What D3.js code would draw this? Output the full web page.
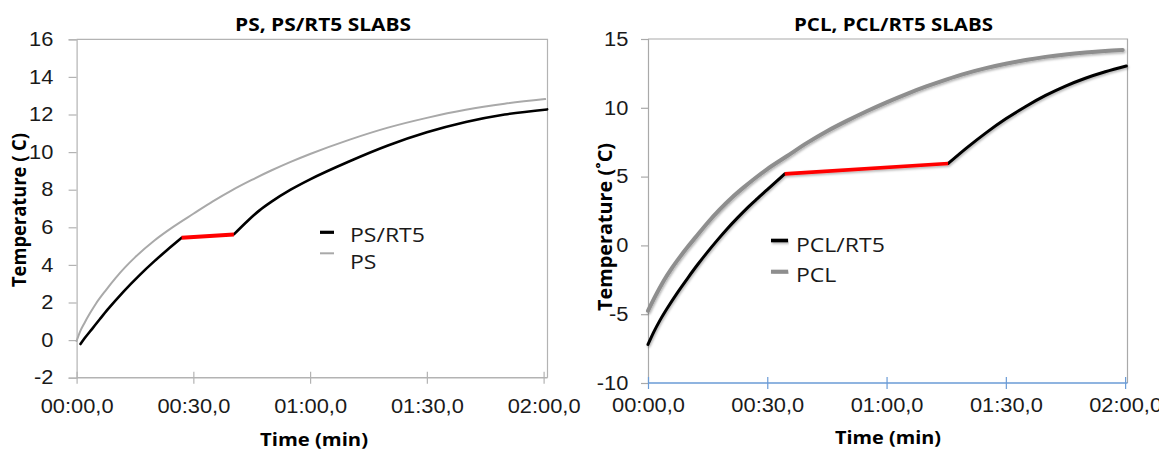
<!DOCTYPE html>
<html>
<head>
<meta charset="utf-8">
<script src="https://cdn.jsdelivr.net/npm/d3@7"></script>
<style>
  html, body { margin: 0; padding: 0; background: #fff; }
  svg { display: block; font-family: "Open Sans", sans-serif; }
</style>
</head>
<body>
<svg id="chart" width="1159" height="451"></svg>
<script>
// ---- data (time in s, temperature in °C) ----
const timeTicks = [0, 30, 60, 90, 120];
const timeTickLabels = ['00:00,0', '00:30,0', '01:00,0', '01:30,0', '02:00,0'];

const psTicks = [-2, 0, 2, 4, 6, 8, 10, 12, 14, 16];
const pclTicks = [-10, -5, 0, 5, 10, 15];

// left panel
const psTime = [0, 1, 2, 3.5, 5, 7.5, 10, 12.5, 15, 20, 25, 30, 35, 40, 45, 50, 55, 60, 70, 80, 90, 100, 110, 120.4];
const psTemp = [-0.05, 0.5, 0.9, 1.45, 1.95, 2.65, 3.3, 3.88, 4.4, 5.3, 6.05, 6.72, 7.38, 7.98, 8.52, 9.02, 9.48, 9.9, 10.65, 11.3, 11.82, 12.25, 12.57, 12.82];

const psRt5Time = [1, 2, 4, 6, 8, 12, 16, 20, 24, 27, 40.4, 44, 47, 50, 55, 60, 70, 80, 90, 100, 110, 120.9];
const psRt5Temp = [-0.21, 0.08, 0.6, 1.12, 1.63, 2.57, 3.42, 4.2, 4.92, 5.45, 5.62, 6.35, 6.9, 7.35, 8.0, 8.55, 9.5, 10.35, 11.05, 11.6, 12.0, 12.27];
const psRt5Plateau = [27, 40.4];

// right panel
const pclTime = [0, 2, 4, 6, 8, 10, 12, 15, 18, 21, 24, 27, 30, 35, 40, 45, 50, 55, 60, 65, 70, 75, 80, 85, 90, 95, 100, 105, 110, 115, 119.4];
const pclTemp = [-4.75, -3.6, -2.55, -1.65, -0.85, -0.1, 0.6, 1.65, 2.6, 3.45, 4.2, 4.9, 5.55, 6.5, 7.45, 8.3, 9.05, 9.75, 10.4, 11.0, 11.55, 12.05, 12.5, 12.88, 13.2, 13.47, 13.7, 13.88, 14.02, 14.13, 14.2];

const pclRt5Time = [0, 1.5, 3, 5, 7.5, 10, 12.5, 15, 17.5, 20, 22.5, 25, 27.5, 30, 34.4, 75.5, 80, 85, 90, 95, 100, 105, 110, 115, 120.3];
const pclRt5Temp = [-7.2, -6.27, -5.45, -4.49, -3.39, -2.37, -1.39, -0.47, 0.4, 1.23, 2.0, 2.73, 3.4, 4.05, 5.2, 5.95, 7.05, 8.18, 9.2, 10.1, 10.9, 11.58, 12.15, 12.62, 13.04];
const pclRt5Plateau = [34.4, 75.5];

const panels = [
  {
    title: 'PS, PS/RT5 SLABS', yLabel: 'Temperature ( C)',
    yTicks: psTicks, yDomain: [-2, 16], xDomain: [0, 121],
    left: 76.6, right: 547.5, top: 39.3, bottom: 377.7,
    ref: { time: psTime, temp: psTemp, label: 'PS' },
    mix: { time: psRt5Time, temp: psRt5Temp, plateau: psRt5Plateau, label: 'PS/RT5' },
    refColor: '#a9a9a9', refWidth: 2, mixWidth: 2.6, redWidth: 4, shadow: false,
    axisColor: '#b3b3b3', xAxisColor: '#b3b3b3',
    tickPad: 15.3, tickSize: 8, xLabelY: 35.6,
    titleX: 323, titleY: 31, titleW: 176,
    xTitleX: 314, xTitleY: 445.5, xTitleW: 108,
    yTitleX: 18.5, yTitleY: 210, yTitleW: 154,
    legend: { x1: 320, x2: 334, textX: 350, rows: [{ line: 232.3, text: 242 }, { line: 253.3, text: 268.6 }] }
  },
  {
    title: 'PCL, PCL/RT5 SLABS', yLabel: 'Temperature (˚C)',
    yTicks: pclTicks, yDomain: [-10, 15], xDomain: [0, 120.6],
    left: 648, right: 1127.5, top: 39, bottom: 383,
    ref: { time: pclTime, temp: pclTemp, label: 'PCL' },
    mix: { time: pclRt5Time, temp: pclRt5Temp, plateau: pclRt5Plateau, label: 'PCL/RT5' },
    refColor: '#8e8e8e', refWidth: 4, mixWidth: 3, redWidth: 3.6, shadow: true,
    axisColor: '#a9a9a9', xAxisColor: '#6a9bd6',
    tickPad: 12.7, tickSize: 7, xLabelY: 29,
    titleX: 893.5, titleY: 30.5, titleW: 199,
    xTitleX: 888, xTitleY: 443.5, xTitleW: 106,
    yTitleX: 605, yTitleY: 227, yTitleW: 168,
    legend: { x1: 771, x2: 788, textX: 796, rows: [{ line: 240.5, text: 252 }, { line: 271.7, text: 282 }] }
  }
];

const STRETCH = 1.12;
function stretch(k) {
  return function () {
    const w = this.getComputedTextLength();
    d3.select(this).attr('textLength', w * k).attr('lengthAdjust', 'spacingAndGlyphs');
  };
}
function fitTo(w) {
  return function () {
    d3.select(this).attr('textLength', w).attr('lengthAdjust', 'spacingAndGlyphs');
  };
}

function draw() {
  const svg = d3.select('#chart');
  svg.append('rect').attr('width', 1159).attr('height', 451).attr('fill', '#fff');

  const defs = svg.append('defs');
  defs.append('filter').attr('id', 'shadow')
    .attr('x', '-5%').attr('y', '-5%').attr('width', '110%').attr('height', '110%')
    .append('feDropShadow')
    .attr('dx', 1).attr('dy', 1.5).attr('stdDeviation', 1.1)
    .attr('flood-color', '#000').attr('flood-opacity', 0.3);

  panels.forEach(p => {
    const g = svg.append('g');
    const x = d3.scaleLinear().domain(p.xDomain).range([p.left, p.right]);
    const y = d3.scaleLinear().domain(p.yDomain).range([p.bottom, p.top]);

    // frame (top + right)
    g.append('path')
      .attr('d', `M${p.left},${p.top}H${p.right}V${p.bottom}`)
      .attr('fill', 'none').attr('stroke', p.axisColor).attr('stroke-width', 1.2);

    // y axis
    const yAxis = g.append('g')
      .attr('transform', `translate(${p.left},0)`)
      .call(d3.axisLeft(y).tickValues(p.yTicks).tickSize(p.tickSize)
        .tickPadding(p.tickPad).tickFormat(d => String(d)));
    yAxis.select('.domain').attr('stroke', p.axisColor).attr('stroke-width', 1.2);
    yAxis.selectAll('.tick line').attr('stroke', p.axisColor).attr('stroke-width', 1.2);
    yAxis.selectAll('.tick text')
      .attr('fill', '#1a1a1a').style('font-size', '19.5px')
      .each(stretch(STRETCH));

    // x axis, ticks crossing the line
    const xAxis = g.append('g')
      .attr('transform', `translate(0,${p.bottom})`)
      .call(d3.axisBottom(x).tickValues(timeTicks).tickSize(6)
        .tickFormat((d, i) => timeTickLabels[i]));
    xAxis.select('.domain').attr('stroke', p.xAxisColor).attr('stroke-width', 1.4)
      .attr('d', `M${p.left},0H${p.right}`);
    xAxis.selectAll('.tick line').attr('stroke', p.xAxisColor).attr('stroke-width', 1.2)
      .attr('y1', -6).attr('y2', 6);
    xAxis.selectAll('.tick text')
      .attr('y', p.xLabelY).attr('dy', 0)
      .attr('fill', '#1a1a1a').style('font-size', '19.5px')
      .each(stretch(STRETCH));

    // titles
    g.append('text').text(p.title)
      .attr('x', p.titleX).attr('y', p.titleY).attr('text-anchor', 'middle')
      .style('font-weight', 700).style('font-size', '17.5px')
      .each(fitTo(p.titleW));
    g.append('text').text('Time (min)')
      .attr('x', p.xTitleX).attr('y', p.xTitleY).attr('text-anchor', 'middle')
      .style('font-weight', 700).style('font-size', '18px')
      .each(fitTo(p.xTitleW));
    g.append('text').text(p.yLabel)
      .attr('transform', `translate(${p.yTitleX},${p.yTitleY}) rotate(-90) scale(1,${STRETCH})`)
      .attr('text-anchor', 'middle').attr('dy', '0.35em')
      .style('font-weight', 700).style('font-size', '18px')
      .each(fitTo(p.yTitleW));

    const line = d3.line()
      .x(d => x(d[0])).y(d => y(d[1]))
      .curve(d3.curveMonotoneX);

    const refPts = p.ref.time.map((t, i) => [t, p.ref.temp[i]]);
    const mixPts = p.mix.time.map((t, i) => [t, p.mix.temp[i]]);
    const [ps, pe] = p.mix.plateau;
    const before = mixPts.filter(d => d[0] <= ps);
    const during = mixPts.filter(d => d[0] >= ps && d[0] <= pe);
    const after = mixPts.filter(d => d[0] >= pe);

    const lines = g.append('g');
    if (p.shadow) lines.attr('filter', 'url(#shadow)');

    lines.append('path').datum(refPts).attr('d', line)
      .attr('fill', 'none').attr('stroke', p.refColor)
      .attr('stroke-width', p.refWidth).attr('stroke-linecap', 'round');
    [before, after].forEach(seg => {
      lines.append('path').datum(seg).attr('d', line)
        .attr('fill', 'none').attr('stroke', '#000')
        .attr('stroke-width', p.mixWidth).attr('stroke-linecap', 'round');
    });
    lines.append('path').datum(during).attr('d', d3.line().x(d => x(d[0])).y(d => y(d[1])))
      .attr('fill', 'none').attr('stroke', '#ff0000')
      .attr('stroke-width', p.redWidth);

    // legend
    const lg = g.append('g');
    if (p.shadow) lg.attr('filter', 'url(#shadow)');
    const entries = [
      { label: p.mix.label, color: '#000', width: p.mixWidth + 0.6 },
      { label: p.ref.label, color: p.refColor, width: p.refWidth }
    ];
    entries.forEach((e, i) => {
      const row = p.legend.rows[i];
      lg.append('line')
        .attr('x1', p.legend.x1).attr('x2', p.legend.x2)
        .attr('y1', row.line).attr('y2', row.line)
        .attr('stroke', e.color).attr('stroke-width', e.width);
    });
    entries.forEach((e, i) => {
      const row = p.legend.rows[i];
      g.append('text').text(e.label)
        .attr('x', p.legend.textX).attr('y', row.text)
        .attr('fill', '#1a1a1a').style('font-size', '19.5px')
        .each(stretch(1.18));
    });
  });
}

if (document.fonts && document.fonts.ready) {
  document.fonts.ready.then(draw);
} else {
  draw();
}
</script>
</body>
</html>
